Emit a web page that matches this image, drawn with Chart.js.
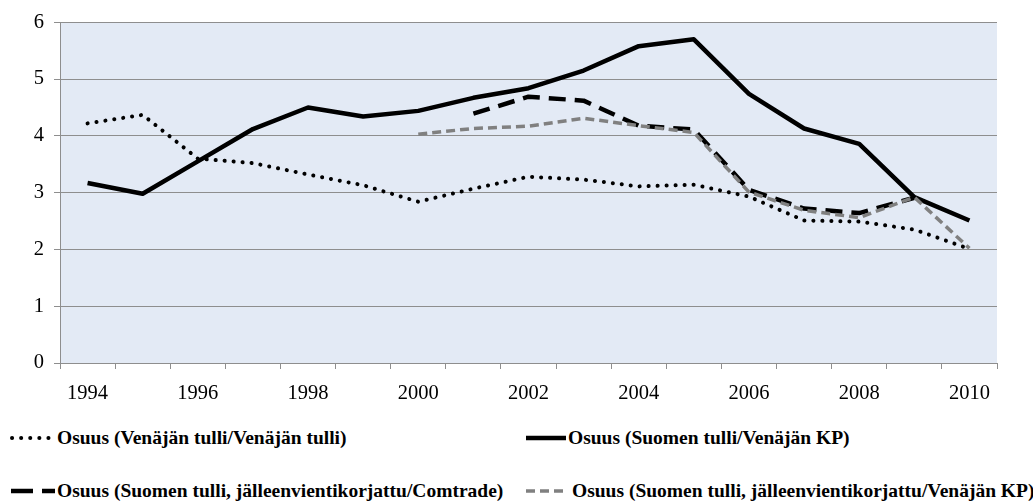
<!DOCTYPE html>
<html>
<head>
<meta charset="utf-8">
<script src="https://cdn.jsdelivr.net/npm/chart.js@4.4.1/dist/chart.umd.min.js"></script>
<style>
  html, body { margin: 0; padding: 0; background: #fff; }
  #wrap { position: relative; width: 1033px; height: 501px; overflow: hidden; }
  #chartBox { position: absolute; left: 0; top: 0; width: 1033px; height: 412px; }
  .legend-item {
    position: absolute;
    display: flex;
    align-items: center;
    font-family: "Liberation Serif", "Times New Roman", serif;
    font-weight: bold;
    font-size: 19.5px;
    color: #000;
    white-space: nowrap;
    height: 24px;
  }
  .legend-item svg { display: block; margin-right: 1px; }
</style>
</head>
<body>
<div id="wrap">
  <div id="chartBox"><canvas id="chart"></canvas></div>
  <div class="legend-item" style="left:8px; top:426px;">
    <svg width="48" height="10"><line x1="4" y1="5" x2="46" y2="5" stroke="#000" stroke-width="4" stroke-linecap="round" stroke-dasharray="0.1 9"/></svg>Osuus (Venäjän tulli/Venäjän tulli)
  </div>
  <div class="legend-item" style="left:525px; top:426px;">
    <svg width="42" height="10"><line x1="1" y1="5" x2="41" y2="5" stroke="#000" stroke-width="4.5"/></svg>Osuus (Suomen tulli/Venäjän KP)
  </div>
  <div class="legend-item" style="left:8px; top:479px;">
    <svg width="48" height="10"><line x1="3" y1="5" x2="47" y2="5" stroke="#000" stroke-width="4.5" stroke-dasharray="22 9"/></svg>Osuus (Suomen tulli, jälleenvientikorjattu/Comtrade)
  </div>
  <div class="legend-item" style="left:525px; top:479px;">
    <svg width="46" height="10"><line x1="1" y1="5" x2="40" y2="5" stroke="#808080" stroke-width="3.5" stroke-dasharray="9 5"/></svg>Osuus (Suomen tulli, jälleenvientikorjattu/Venäjän KP)
  </div>
</div>
<script>
const years = ['1994', '1995', '1996', '1997', '1998', '1999', '2000', '2001', '2002',
    '2003', '2004', '2005', '2006', '2007', '2008', '2009', '2010'];

const venajanTulli = [4.22, 4.37, 3.60, 3.52, 3.32, 3.13, 2.84, 3.07, 3.28,
    3.23, 3.11, 3.14, 2.93, 2.51, 2.49, 2.35, 2.01];

const suomenTulliKP = [3.17, 2.98, 3.55, 4.12, 4.50, 4.34, 4.44, 4.67, 4.84,
    5.15, 5.58, 5.70, 4.74, 4.13, 3.86, 2.92, 2.51];

const comtradeKorjattu = [null, null, null, null, null, null, null, 4.39, 4.69,
    4.62, 4.18, 4.11, 3.05, 2.72, 2.64, 2.91, null];

const kpKorjattu = [null, null, null, null, null, null, 4.03, 4.13, 4.17,
    4.31, 4.18, 4.06, 3.01, 2.69, 2.56, 2.92, 2.02];

const yTicks = [0, 1, 2, 3, 4, 5, 6];

const axisFont = { family: '"Liberation Serif", "Times New Roman", serif', size: 20.5 };
const gridGray = '#8e8e8e';

const plotBackground = {
    id: 'plotBackground',
    beforeDraw(chart) {
        const { ctx, chartArea } = chart;
        ctx.save();
        ctx.fillStyle = '#e3eaf5';
        ctx.fillRect(chartArea.left, chartArea.top, chartArea.right - chartArea.left, chartArea.bottom - chartArea.top);
        ctx.restore();
    }
};

const ctx = document.getElementById('chart').getContext('2d');
new Chart(ctx, {
    type: 'line',
    data: {
        labels: years,
        datasets: [
            {
                label: 'Osuus (Venäjän tulli/Venäjän tulli)',
                data: venajanTulli,
                borderColor: '#000',
                borderWidth: 4,
                borderDash: [0.1, 8.9],
                borderCapStyle: 'round',
                order: 3
            },
            {
                label: 'Osuus (Suomen tulli/Venäjän KP)',
                data: suomenTulliKP,
                borderColor: '#000',
                borderWidth: 4.5,
                order: 4
            },
            {
                label: 'Osuus (Suomen tulli, jälleenvientikorjattu/Comtrade)',
                data: comtradeKorjattu,
                borderColor: '#000',
                borderWidth: 4.5,
                borderDash: [17, 9],
                order: 2
            },
            {
                label: 'Osuus (Suomen tulli, jälleenvientikorjattu/Venäjän KP)',
                data: kpKorjattu,
                borderColor: '#808080',
                borderWidth: 3.5,
                borderDash: [9, 5],
                order: 1
            }
        ]
    },
    options: {
        responsive: true,
        maintainAspectRatio: false,
        animation: false,
        layout: { padding: { top: 11, right: 36, left: 0, bottom: 0 } },
        elements: {
            point: { radius: 0, hoverRadius: 0 },
            line: { tension: 0, borderJoinStyle: 'round' }
        },
        plugins: {
            legend: { display: false },
            tooltip: { enabled: false }
        },
        scales: {
            x: {
                offset: true,
                grid: {
                    offset: true,
                    drawOnChartArea: false,
                    drawTicks: true,
                    tickLength: 6,
                    color: gridGray
                },
                border: { color: gridGray, width: 1 },
                ticks: {
                    autoSkip: false,
                    maxRotation: 0,
                    padding: 12,
                    color: '#000',
                    font: axisFont,
                    callback: function (value, index) {
                        return index % 2 === 0 ? years[index] : '';
                    }
                },
                afterFit(scale) { scale.height = 49; }
            },
            y: {
                min: 0,
                max: 6,
                afterBuildTicks(scale) { scale.ticks = yTicks.map((v) => ({ value: v })); },
                grid: {
                    color: gridGray,
                    tickLength: 6,
                    lineWidth: 1
                },
                border: { color: gridGray, width: 1 },
                ticks: {
                    padding: 10,
                    color: '#000',
                    font: axisFont
                },
                afterFit(scale) { scale.width = 60; }
            }
        }
    },
    plugins: [plotBackground]
});
</script>
</body>
</html>
